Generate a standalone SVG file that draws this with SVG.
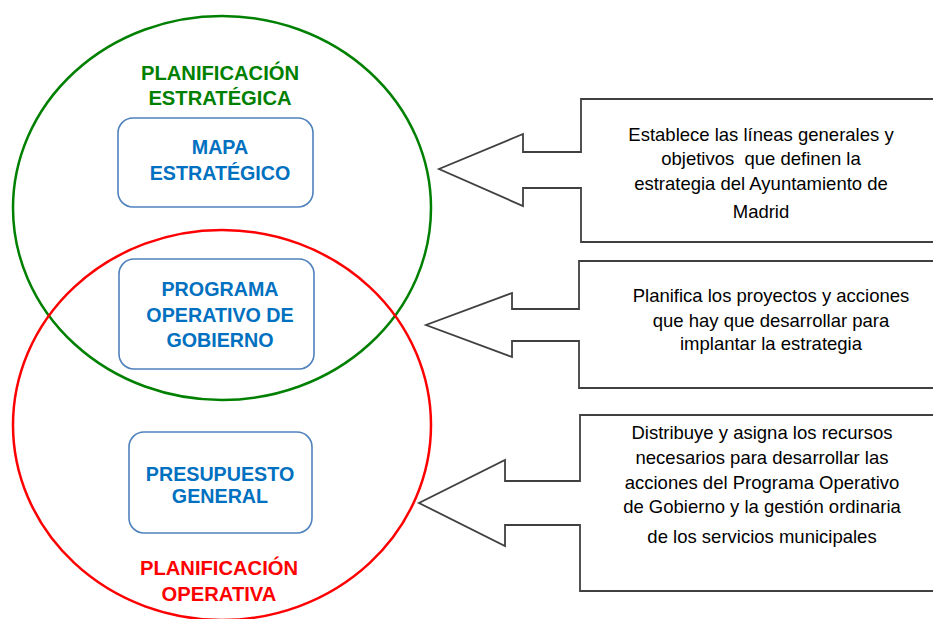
<svg xmlns="http://www.w3.org/2000/svg" width="933" height="619" viewBox="0 0 933 619">
<style>
.bg{fill:#ffffff}
.circ{fill:none;stroke-width:2.5}
.box{fill:#ffffff;stroke:#4F81BD;stroke-width:1.6}
.lbl{font-family:"Liberation Sans",Arial,sans-serif;font-weight:bold;font-size:19.7px;fill:#0070C0;text-anchor:middle}
.ttl{font-family:"Liberation Sans",Arial,sans-serif;font-weight:bold;font-size:20.2px;text-anchor:middle}
.call{fill:#ffffff;stroke:#404040;stroke-width:1.8}
.ctx{font-family:"Liberation Sans",Arial,sans-serif;font-size:18.5px;fill:#000000;text-anchor:middle}
</style>
<rect class="bg" x="0" y="0" width="933" height="619"/>
<g id="circles">
<ellipse id="estrategica" class="circ" cx="222" cy="208" rx="209" ry="192" stroke="#008000"/>
<ellipse id="operativa" class="circ" cx="222" cy="425" rx="209" ry="195" stroke="#FF0000"/>
</g>
<g id="title-estrategica">
<text class="ttl" x="220" y="80" fill="#008000">PLANIFICACIÓN</text>
<text class="ttl" x="220" y="105" fill="#008000">ESTRATÉGICA</text>
</g>
<g id="title-operativa">
<text class="ttl" x="219" y="575" fill="#FF0000">PLANIFICACIÓN</text>
<text class="ttl" x="219" y="601" fill="#FF0000">OPERATIVA</text>
</g>
<g id="mapa">
<rect class="box" x="118" y="118" width="195" height="89" rx="15"/>
<text class="lbl" x="220" y="154">MAPA</text>
<text class="lbl" x="220" y="180">ESTRATÉGICO</text>
</g>
<g id="programa">
<rect class="box" x="119" y="259" width="195" height="110" rx="15"/>
<text class="lbl" x="220" y="296">PROGRAMA</text>
<text class="lbl" x="220" y="322">OPERATIVO DE</text>
<text class="lbl" x="220" y="347">GOBIERNO</text>
</g>
<g id="presupuesto">
<rect class="box" x="129" y="432" width="183" height="101" rx="15"/>
<text class="lbl" x="220" y="481">PRESUPUESTO</text>
<text class="lbl" x="220" y="503">GENERAL</text>
</g>
<g id="connectors">
<path id="callout1" class="call" d="M945 99 L581 99 L581 152 L523 152 L523 134 L439 169 L523 206 L523 188 L581 188 L581 242 L945 242 Z"/>
<path id="callout2" class="call" d="M945 261 L579 261 L579 309 L512 309 L512 293 L426 325 L512 357 L512 341 L579 341 L579 388 L945 388 Z"/>
<path id="callout3" class="call" d="M945 415 L580 415 L580 481 L505 481 L505 460 L419 503 L505 546 L505 525 L580 525 L580 591 L945 591 Z"/>
</g>
<g id="text1">
<text class="ctx" x="761" y="141">Establece las líneas generales y</text>
<text class="ctx" x="761" y="165" xml:space="preserve">objetivos  que definen la</text>
<text class="ctx" x="761" y="190">estrategia del Ayuntamiento de</text>
<text class="ctx" x="761" y="218">Madrid</text>
</g>
<g id="text2">
<text class="ctx" x="771" y="302">Planifica los proyectos y acciones</text>
<text class="ctx" x="771" y="327">que hay que desarrollar para</text>
<text class="ctx" x="771" y="350">implantar la estrategia</text>
</g>
<g id="text3">
<text class="ctx" x="762" y="439">Distribuye y asigna los recursos</text>
<text class="ctx" x="762" y="464">necesarios para desarrollar las</text>
<text class="ctx" x="762" y="489">acciones del Programa Operativo</text>
<text class="ctx" x="762" y="513">de Gobierno y la gestión ordinaria</text>
<text class="ctx" x="762" y="543">de los servicios municipales</text>
</g>
</svg>
